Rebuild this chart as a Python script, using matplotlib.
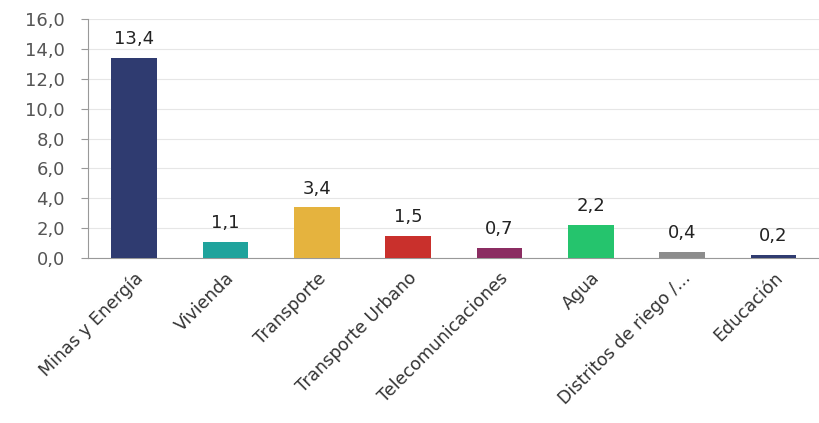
import matplotlib
matplotlib.use("Agg")
import matplotlib.pyplot as plt

categories = ["Minas y Energía", "Vivienda", "Transporte", "Transporte Urbano",
              "Telecomunicaciones", "Agua", "Distritos de riego /...", "Educación"]
values = [13.4, 1.1, 3.4, 1.5, 0.7, 2.2, 0.4, 0.2]
labels = ["13,4", "1,1", "3,4", "1,5", "0,7", "2,2", "0,4", "0,2"]
colors = ["#2F3B70", "#1FA39C", "#E5B33E", "#C9302C", "#8B2D62", "#25C46D", "#8C8C8C", "#2F3B70"]
yticks = [0, 2, 4, 6, 8, 10, 12, 14, 16]
ytick_labels = ["0,0", "2,0", "4,0", "6,0", "8,0", "10,0", "12,0", "14,0", "16,0"]

fig = plt.figure(figsize=(8.19, 4.23), dpi=100)
ax = fig.add_axes([0.108, 0.39, 0.892, 0.565])
x = range(len(categories))
bars = ax.bar(x, values, width=0.5, color=colors, zorder=3)
for xi, v, lab in zip(x, values, labels):
    ax.annotate(lab, (xi, v), xytext=(0, 7), textcoords="offset points",
                ha="center", va="bottom", fontsize=13, color="#222222", zorder=4)
ax.set_ylim(0, 16)
ax.set_xlim(-0.5, len(categories) - 0.5)
ax.set_yticks(yticks)
ax.set_yticklabels(ytick_labels, fontsize=13, color="#555555")
ax.set_xticks(list(x))
ax.set_xticklabels(categories, rotation=45, ha="right", rotation_mode="anchor",
                   fontsize=12.5, color="#333333")
ax.yaxis.grid(True, color="#e6e6e6", linewidth=0.8, zorder=0)
for s in ["top", "right"]:
    ax.spines[s].set_visible(False)
ax.spines["left"].set_color("#999999")
ax.spines["bottom"].set_color("#999999")
ax.tick_params(axis="x", length=0, pad=8)
ax.tick_params(axis="y", length=5, color="#999999", direction="out", pad=12)
fig.savefig("out.png", dpi=100)
